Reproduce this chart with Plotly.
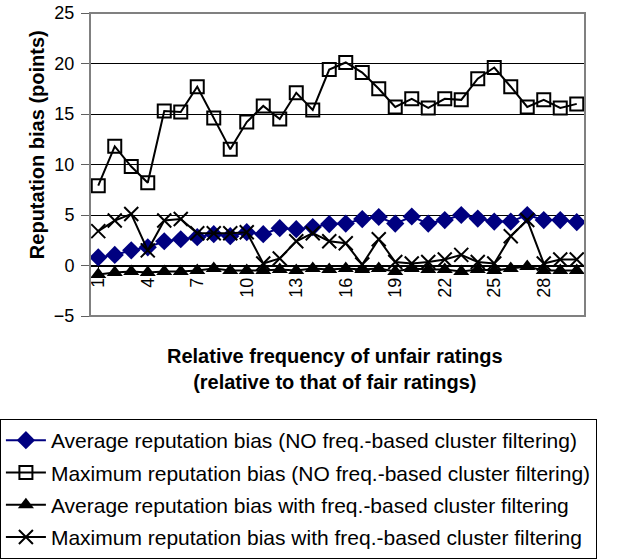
import plotly.graph_objects as go

x_vals = list(range(1, 31))
tick_vals = [1, 4, 7, 10, 13, 16, 19, 22, 25, 28]
tick_text = [str(v) for v in tick_vals]

avg_no_filter = [0.8, 1.05, 1.5, 1.8, 2.4, 2.6, 2.8, 3.1, 2.9, 3.3,
                 3.1, 3.7, 3.6, 3.8, 4.1, 4.15, 4.6, 4.8, 4.15, 4.85,
                 4.15, 4.5, 5.0, 4.65, 4.35, 4.35, 5.0, 4.5, 4.5, 4.3]
max_no_filter = [7.9, 11.8, 9.8, 8.2, 15.3, 15.2, 17.7, 14.6, 11.5, 14.2,
                 15.8, 14.5, 17.1, 15.4, 19.4, 20.1, 19.1, 17.5, 15.7, 16.5,
                 15.6, 16.5, 16.4, 18.5, 19.6, 17.7, 15.7, 16.4, 15.6, 16.0]
avg_filter = [-0.9, -0.7, -0.6, -0.7, -0.6, -0.6, -0.5, -0.3, -0.5, -0.5,
              -0.5, -0.4, -0.5, -0.3, -0.4, -0.3, -0.4, -0.3, -0.6, -0.3,
              -0.4, -0.4, -0.6, -0.4, -0.5, -0.3, -0.1, -0.5, -0.5, -0.5]
max_filter = [3.4, 4.45, 5.1, 1.5, 4.45, 4.6, 3.2, 3.2, 3.2, 3.3,
              0.2, 0.7, 2.4, 3.2, 2.4, 2.2, 0.1, 2.6, 0.35, 0.2,
              0.35, 0.6, 1.05, 0.35, 0.2, 2.9, 4.5, 0.2, 0.6, 0.6]

names = [
    "Average reputation bias (NO freq.-based cluster filtering)",
    "Maximum reputation bias (NO freq.-based cluster filtering)",
    "Average reputation bias with freq.-based cluster filtering",
    "Maximum reputation bias with freq.-based cluster filtering",
]

fig = go.Figure()
fig.add_trace(go.Scatter(x=x_vals, y=avg_no_filter, name=names[0], mode="lines+markers",
                         legendgroup="a",
                         line=dict(color="#000080", width=2),
                         marker=dict(symbol="diamond", size=14, color="#000080")))
fig.add_trace(go.Scatter(x=x_vals, y=max_no_filter, name=names[1], mode="lines+markers",
                         legendgroup="b",
                         line=dict(color="black", width=2),
                         marker=dict(symbol="square-open", size=13, color="black",
                                     line=dict(width=2, color="black"))))
fig.add_trace(go.Scatter(x=x_vals, y=avg_filter, name=names[2], mode="lines+markers",
                         legendgroup="c",
                         line=dict(color="black", width=2),
                         marker=dict(symbol="triangle-up", size=14, color="black")))
fig.add_trace(go.Scatter(x=x_vals, y=max_filter, name=names[3], mode="lines+markers",
                         legendgroup="d",
                         line=dict(color="black", width=2),
                         marker=dict(symbol="x-thin-open", size=14, color="black",
                                     line=dict(width=2, color="black"))))

font_family = "Liberation Sans, Arial, sans-serif"

fig.update_layout(
    width=624, height=559,
    margin=dict(l=90, r=39, t=13, b=243, autoexpand=False),
    paper_bgcolor="white", plot_bgcolor="white",
    font=dict(family=font_family, size=18, color="black"),
    showlegend=True,
    legend=dict(x=-0.182, y=-0.340, xanchor="left", yanchor="top",
                bordercolor="black", borderwidth=1, bgcolor="white",
                font=dict(size=21, family=font_family),
                tracegroupgap=2, itemwidth=40),
    xaxis=dict(range=[0.5, 30.5], tickmode="array", tickvals=tick_vals, ticktext=tick_text,
               tickangle=-90, anchor="free", position=5/30,
               showline=True, linecolor="black", linewidth=1,
               ticks="outside", ticklen=4, tickcolor="black",
               showgrid=False, zeroline=False, automargin=False,
               tickfont=dict(size=18, family=font_family)),
    yaxis=dict(range=[-5, 25], tickvals=[-5, 0, 5, 10, 15, 20, 25],
               showline=False, ticks="outside", ticklen=8, tickcolor="#606060",
               ticklabelstandoff=3,
               showgrid=True, gridcolor="black", gridwidth=1, zeroline=False,
               automargin=False,
               tickfont=dict(size=18, family=font_family)),
    shapes=[dict(type="rect", xref="paper", yref="paper", x0=0, x1=1, y0=0, y1=1,
                 line=dict(color="#808080", width=2), fillcolor="rgba(0,0,0,0)", layer="above")],
    annotations=[
        dict(text="<b>Relative frequency of unfair ratings<br>(relative to that of fair ratings)</b>",
             xref="paper", yref="paper", x=0.495, y=-0.175, xanchor="center", yanchor="middle",
             showarrow=False, font=dict(size=20, family=font_family)),
        dict(text="<b>Reputation bias (points)</b>", textangle=-90,
             xref="paper", yref="paper", x=-0.107, y=0.564, xanchor="center", yanchor="middle",
             showarrow=False, font=dict(size=20, family=font_family)),
    ],
)

fig.write_html("out.html", config={"displayModeBar": False},
               post_script="document.body.style.margin='0px';")
